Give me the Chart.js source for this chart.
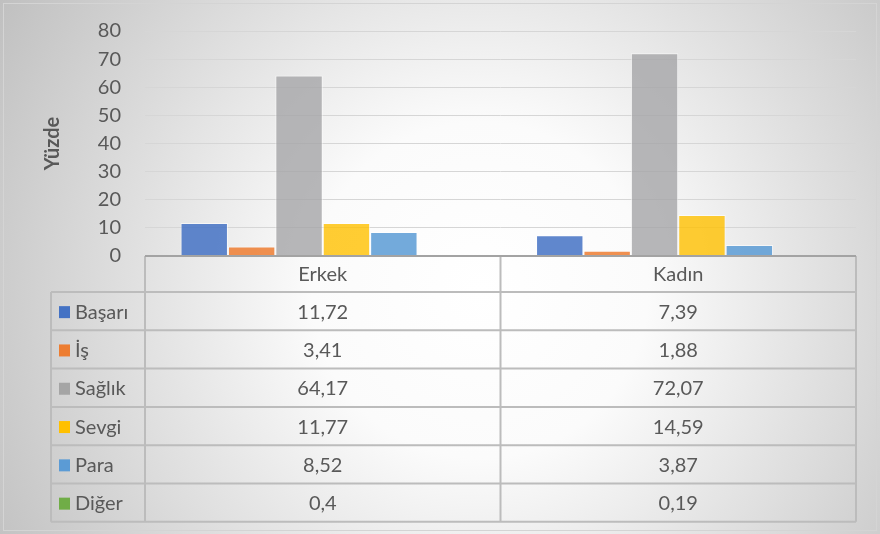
<!DOCTYPE html>
<html>
<head>
<meta charset="utf-8">
<script src="https://cdn.jsdelivr.net/npm/chart.js@4.4.0/dist/chart.umd.min.js"></script>
<style>
  html, body { margin: 0; padding: 0; background: #fff; }
  #wrap { width: 880px; height: 534px; }
</style>
</head>
<body>
<div id="wrap"><canvas id="chart" width="880" height="534"></canvas></div>
<script>
// ===================== data =====================
const groups = ['Erkek', 'Kadın'];
const seriesNames = ['Başarı', 'İş', 'Sağlık', 'Sevgi', 'Para', 'Diğer'];
const basari = [11.72, 7.39];
const is = [3.41, 1.88];
const saglik = [64.17, 72.07];
const sevgi = [11.77, 14.59];
const para = [8.52, 3.87];
const diger = [0.4, 0.19];
const yTicks = [0, 10, 20, 30, 40, 50, 60, 70, 80];

const seriesValues = [basari, is, saglik, sevgi, para, diger];
const colors = ['#4472C4', '#ED7D31', '#A5A5A5', '#FFC000', '#5B9BD5', '#70AD47'];
const fills = ['rgba(68,114,196,0.85)', 'rgba(237,125,49,0.85)', 'rgba(165,165,168,0.8)',
               'rgba(255,192,0,0.8)', 'rgba(91,155,213,0.85)', 'rgba(112,173,71,0.85)'];

const FONT = 'Lato, "Open Sans", sans-serif';
const TEXT = '#595959';

// ===================== background =====================
const bgPlugin = {
  id: 'bg',
  beforeDraw(chart) {
    const ctx = chart.ctx;
    const w = chart.width, h = chart.height;
    ctx.save();
    const g = ctx.createRadialGradient(480, 290, 0, 480, 290, 560);
    g.addColorStop(0, '#ffffff');
    g.addColorStop(0.3, '#fbfbfb');
    g.addColorStop(1, '#c0c0c0');
    ctx.fillStyle = g;
    ctx.fillRect(0, 0, w, h);
    ctx.strokeStyle = '#d4d4d4';
    ctx.lineWidth = 1;
    ctx.strokeRect(3.5, 3.5, w - 7, h - 7);
    ctx.restore();
  }
};

// ===================== data table under the plot =====================
const tablePlugin = {
  id: 'dataTable',
  afterDraw(chart) {
    const ctx = chart.ctx;
    const area = chart.chartArea;
    const x = chart.scales.x;
    const top = area.bottom;
    const headerH = 36;
    const rowH = 38.3;
    const leftX = 51;
    const bottom = top + headerH + rowH * seriesNames.length;
    const mid = (x.getPixelForValue(0) + x.getPixelForValue(1)) / 2;

    ctx.save();
    ctx.strokeStyle = '#bcbcbc';
    ctx.lineWidth = 2;
    ctx.beginPath();
    // vertical lines
    ctx.moveTo(area.left, top); ctx.lineTo(area.left, bottom);
    ctx.moveTo(mid, top); ctx.lineTo(mid, bottom);
    ctx.moveTo(area.right, top); ctx.lineTo(area.right, bottom);
    ctx.moveTo(leftX, top + headerH); ctx.lineTo(leftX, bottom);
    // horizontal lines
    for (let i = 1; i <= seriesNames.length; i++) {
      const yy = top + headerH + rowH * i;
      ctx.moveTo(leftX, yy); ctx.lineTo(area.right, yy);
    }
    ctx.moveTo(leftX, top + headerH); ctx.lineTo(area.right, top + headerH);
    ctx.stroke();

    // axis line on top
    ctx.strokeStyle = '#a3a3a3';
    ctx.beginPath();
    ctx.moveTo(area.left, top); ctx.lineTo(area.right, top);
    ctx.stroke();

    ctx.fillStyle = TEXT;
    ctx.font = '20px ' + FONT;
    ctx.textBaseline = 'middle';
    ctx.textAlign = 'center';
    groups.forEach((gname, j) => {
      ctx.fillText(gname, x.getPixelForValue(j), top + headerH / 2 + 1);
    });

    seriesNames.forEach((name, i) => {
      const cy = top + headerH + rowH * i + rowH / 2 + 1;
      ctx.fillStyle = colors[i];
      ctx.fillRect(59, cy - 6, 11, 12);
      ctx.fillStyle = TEXT;
      ctx.textAlign = 'left';
      ctx.fillText(name, 75, cy);
      ctx.textAlign = 'center';
      groups.forEach((gname, j) => {
        ctx.fillText(String(seriesValues[i][j]).replace('.', ','), x.getPixelForValue(j), cy);
      });
    });
    ctx.restore();
  }
};

// ===================== chart =====================
const ctx = document.getElementById('chart').getContext('2d');

const chartData = {
  labels: groups,
  datasets: seriesNames.map((name, i) => ({
    label: name,
    data: seriesValues[i],
    backgroundColor: fills[i],
    borderColor: 'rgba(255,255,255,0.6)',
    borderWidth: 1,
    borderSkipped: 'bottom',
    categoryPercentage: 0.8,
    barPercentage: 1.0
  }))
};

new Chart(ctx, {
  type: 'bar',
  data: chartData,
  options: {
    responsive: false,
    animation: false,
    devicePixelRatio: 1,
    layout: { padding: { top: 31, bottom: 278, left: 0, right: 24 } },
    plugins: {
      legend: { display: false },
      tooltip: { enabled: false }
    },
    scales: {
      x: { display: false },
      y: {
        min: 0,
        max: 80,
        afterBuildTicks: scale => { scale.ticks = yTicks.map(v => ({ value: v })); },
        afterFit: scale => {
          scale.width = 145;
          scale.paddingTop = 0;
          scale.paddingBottom = 0;
        },
        border: { display: false },
        grid: { color: '#d6d6d6', lineWidth: 1, drawTicks: false },
        ticks: { color: TEXT, font: { family: FONT, size: 20 }, padding: 24 },
        title: {
          display: true,
          text: 'Yüzde',
          color: TEXT,
          font: { family: FONT, size: 20, weight: 'bold' },
          padding: { top: 41, bottom: 0 }
        }
      }
    }
  },
  plugins: [bgPlugin, tablePlugin]
});
</script>
</body>
</html>
